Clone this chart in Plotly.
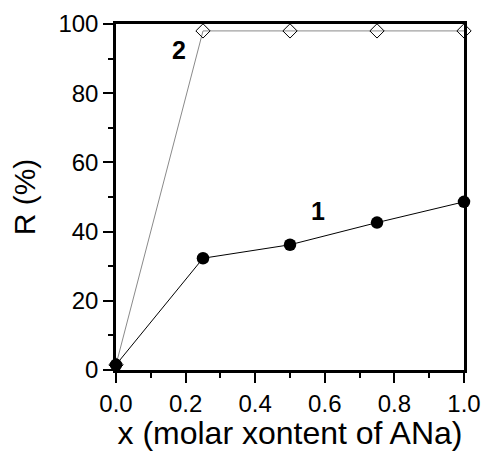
import plotly.graph_objects as go

x_vals = [0.0, 0.25, 0.5, 0.75, 1.0]
series1 = [1.5, 32.3, 36.2, 42.6, 48.6]
series2 = [1.5, 98.0, 98.0, 98.0, 98.0]
x_ticks = [0.0, 0.2, 0.4, 0.6, 0.8, 1.0]
x_ticklabels = ["0.0", "0.2", "0.4", "0.6", "0.8", "1.0"]
y_ticks = [0, 20, 40, 60, 80, 100]
labels = ["1", "2"]
label_pos = [(0.580, 46.0), (0.181, 92.5)]

FONT = "Liberation Sans, Arial, sans-serif"

fig = go.Figure()
fig.add_trace(go.Scatter(
    x=x_vals, y=series2, mode="lines+markers", cliponaxis=False,
    line=dict(color="#8a8a8a", width=1),
    marker=dict(symbol="diamond-open", size=11, color="black", line=dict(width=1, color="black")),
    showlegend=False))
fig.add_trace(go.Scatter(
    x=x_vals, y=series1, mode="lines+markers", cliponaxis=False,
    line=dict(color="black", width=1),
    marker=dict(symbol="circle", size=12.5, color="black"),
    showlegend=False))

for t, (ax, ay) in zip(labels, label_pos):
    fig.add_annotation(x=ax, y=ay, text="<b>" + t + "</b>", showarrow=False,
                       font=dict(family=FONT, size=25, color="black"))

axis_common = dict(
    showline=True, linecolor="black", linewidth=2.5, mirror=True,
    ticks="outside", ticklen=10, tickwidth=2, tickcolor="black",
    showgrid=False, zeroline=False, automargin=False,
    tickfont=dict(family=FONT, size=24, color="black"),
)

fig.update_xaxes(range=[0, 1.0], tickvals=x_ticks, ticktext=x_ticklabels,
                 title=dict(text="x (molar xontent of ANa)", font=dict(family=FONT, size=32, color="black"), standoff=2),
                 minor=dict(ticks="outside", ticklen=5, tickwidth=2, dtick=0.1, tickcolor="black"),
                 **axis_common)
fig.update_yaxes(range=[0, 100], tickvals=y_ticks,
                 title=dict(text="R (%)", font=dict(family=FONT, size=30, color="black"), standoff=14),
                 minor=dict(ticks="outside", ticklen=5, tickwidth=2, dtick=10, tickcolor="black"),
                 **axis_common)

fig.update_layout(width=483, height=451, paper_bgcolor="white", plot_bgcolor="white",
                  margin=dict(l=116, r=19, t=24, b=81))

fig.write_html("out.html", config={"displayModeBar": False},
               post_script="document.body.style.margin='0';")
